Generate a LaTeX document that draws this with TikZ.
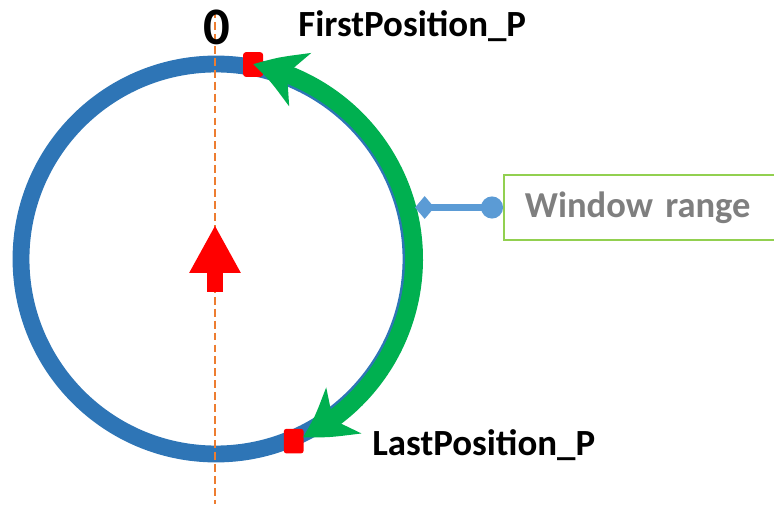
\documentclass[tikz,border=0pt]{standalone}
\usepackage{fontspec}
\setmainfont{Carlito}
\usetikzlibrary{arrows.meta, bending}

\definecolor{ringblue}{HTML}{2E75B6}
\definecolor{rangegreen}{HTML}{00B050}
\definecolor{boxgreen}{HTML}{92D050}
\definecolor{pinblue}{HTML}{5B9BD5}
\definecolor{zeroorange}{HTML}{ED7D31}
\definecolor{labelgray}{HTML}{7F7F7F}

\begin{document}
\begin{tikzpicture}[
        x=0.02cm, y=0.02cm,
        ring/.style={draw=ringblue, line width=9.6pt},
        zeroline/.style={draw=zeroorange, line width=1.5pt, dash pattern=on 4.5pt off 2.3pt},
        posmark/.style={rectangle, fill=red, rounded corners=1.5pt, minimum width=11.3pt, minimum height=14pt, inner sep=0pt},
        rangearc/.style={draw=rangegreen, line width=10.2pt,
            {Stealth[length=28pt, width=32pt, inset=8pt, bend]}-{Stealth[length=28pt, width=32pt, inset=8pt, bend]}},
        uparrow/.style={draw=red, line width=9.1pt, -{Triangle[length=27.2pt, width=27.2pt]}},
        pin/.style={draw=pinblue, line width=4.5pt, {Diamond[length=11pt, width=13pt]}-{Circle[length=12.5pt]}},
        winbox/.style={draw=boxgreen, line width=1.2pt, text=labelgray, font=\fontsize{20.8}{24}\selectfont\bfseries,
            minimum height=36.9pt, text width=147pt, align=left, inner xsep=11.9pt},
        label/.style={font=\fontsize{21}{24}\selectfont\bfseries, inner sep=0pt}
    ]
        \useasboundingbox (0,0) rectangle (774,504);

        % Circle
        \coordinate (c) at (216, 245);
        \draw[ring] (c) circle[radius=195];

        % Zero line
        \coordinate (ztop) at (215, 494);
        \coordinate (zbot) at (215, 0);
        \draw[zeroline] (ztop) -- (zbot);
        \node[label, font=\fontsize{30}{32}\selectfont\bfseries] (zero) at (216.5, 477) {0};

        % Direction arrow
        \coordinate (arrtail) at (215, 212);
        \coordinate (arrtip) at (215, 279);
        \draw[uparrow] (arrtail) -- (arrtip);

        % Positions
        \foreach \ang/\nm in {79.2/firstsq, -66.9/lastsq} {
            \node[posmark] (\nm) at ([shift={(\ang:198)}]c) {};
        }
        \node[label, anchor=base west] (firstlbl) at (298, 467) {FirstPosition\_P};
        \node[label, anchor=base west] (lastlbl) at (372, 49) {LastPosition\_P};

        % Window range
        \draw[rangearc, shorten <=0.2cm] (lastsq.center) arc[start angle=-66.9, end angle=79.2, radius=198];
        \node[winbox, anchor=west] (win) at (503, 296.5) {Window range};
        \coordinate (rangepin) at (415, 296.5);
        \draw[pin] (rangepin) -- (win.west);
    \end{tikzpicture}
\end{document}
